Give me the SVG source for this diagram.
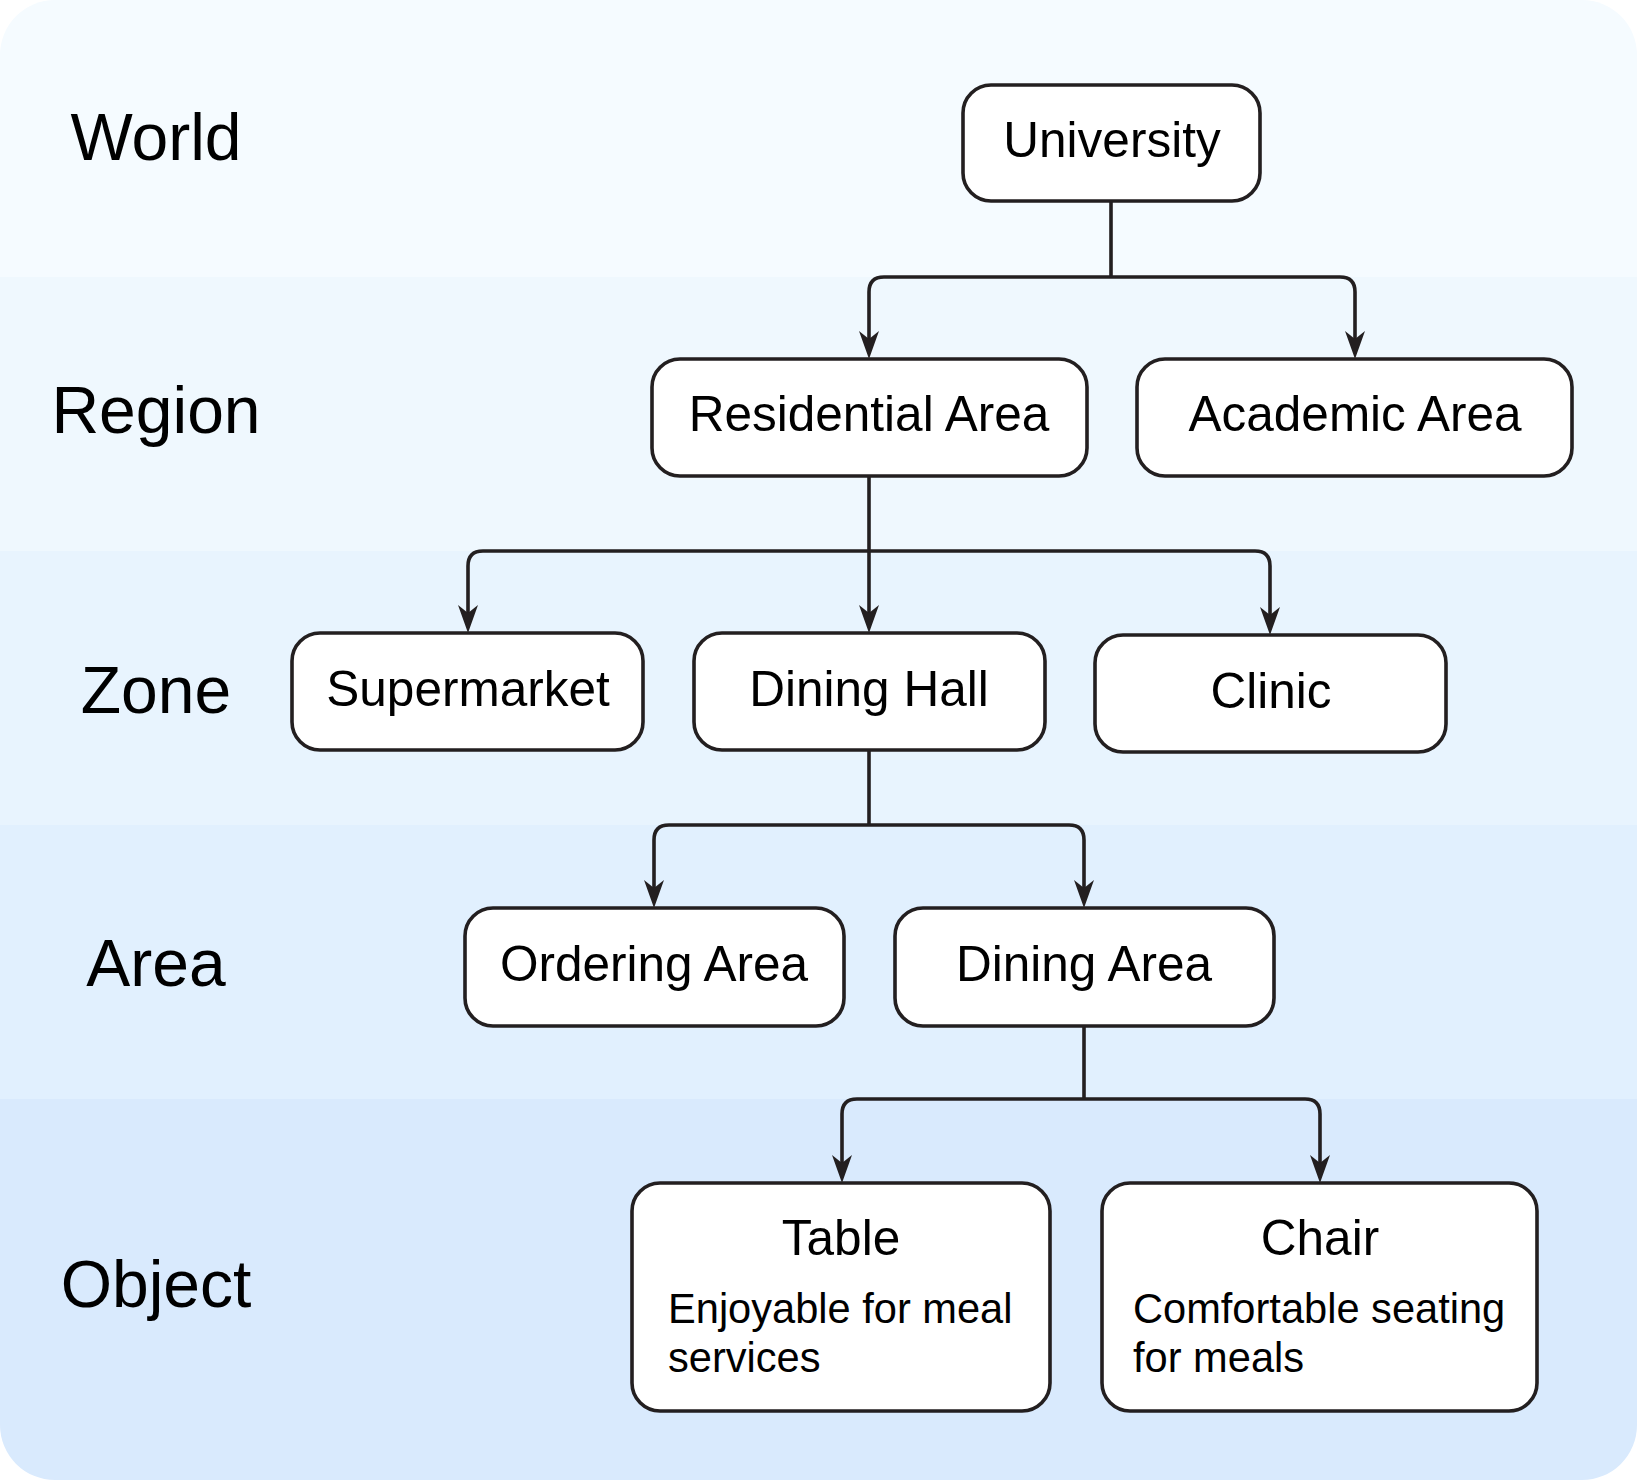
<svg xmlns="http://www.w3.org/2000/svg" width="1637" height="1480" viewBox="0 0 1637 1480">
<style>
.node rect{fill:#ffffff;stroke:#231f20;stroke-width:3.6}
.lbl{font-family:"Liberation Sans",Arial,sans-serif;font-size:49.5px;fill:#000;text-anchor:middle}
.desc{font-family:"Liberation Sans",Arial,sans-serif;font-size:41.6px;fill:#000}
.layer{font-family:"Liberation Sans",Arial,sans-serif;font-size:66px;fill:#000;text-anchor:middle}
.conn path{fill:none;stroke:#231f20;stroke-width:3.6;marker-end:url(#arr)}
.conn path.plain{marker-end:none}
</style>
<defs>
<clipPath id="bg"><rect x="0" y="0" width="1637" height="1480" rx="55" ry="55"/></clipPath>
<marker id="arr" viewBox="0 0 28 20" refX="18" refY="10" markerWidth="28" markerHeight="20" markerUnits="userSpaceOnUse" orient="auto">
<path d="M0,0 L28,10 L0,20 L8,10 Z" fill="#231f20"/>
</marker>
</defs>
<rect width="1637" height="1480" fill="#ffffff"/>
<g clip-path="url(#bg)">
<rect x="0" y="0" width="1637" height="277" fill="#f5fbff"/>
<rect x="0" y="277" width="1637" height="274" fill="#eff8fe"/>
<rect x="0" y="551" width="1637" height="274" fill="#e8f4fe"/>
<rect x="0" y="825" width="1637" height="274" fill="#e1f0fe"/>
<rect x="0" y="1099" width="1637" height="381" fill="#d9eafd"/>
</g>
<g id="layers">
<text class="layer" x="156" y="160">World</text>
<text class="layer" x="156" y="433">Region</text>
<text class="layer" x="156" y="713">Zone</text>
<text class="layer" x="156" y="986">Area</text>
<text class="layer" x="156" y="1307">Object</text>
</g>
<g id="connectors" class="conn">
<path class="plain" d="M1111 201 V277"/>
<path d="M1111 277 H884 Q869 277 869 292 V349"/>
<path d="M1111 277 H1340 Q1355 277 1355 292 V349"/>
<path d="M869 476 V623"/>
<path d="M869 551 H483 Q468 551 468 566 V623"/>
<path d="M869 551 H1255 Q1270 551 1270 566 V625"/>
<path class="plain" d="M869 750 V825"/>
<path d="M869 825 H669 Q654 825 654 840 V898"/>
<path d="M869 825 H1069 Q1084 825 1084 840 V898"/>
<path class="plain" d="M1084 1026 V1099"/>
<path d="M1084 1099 H857 Q842 1099 842 1114 V1173"/>
<path d="M1084 1099 H1305 Q1320 1099 1320 1114 V1173"/>
</g>
<g id="university" class="node"><rect x="963" y="85" width="297" height="116" rx="28"/><text class="lbl" x="1112" y="157">University</text></g>
<g id="residential" class="node"><rect x="652" y="359" width="435" height="117" rx="28"/><text class="lbl" x="869" y="431">Residential Area</text></g>
<g id="academic" class="node"><rect x="1137" y="359" width="435" height="117" rx="28"/><text class="lbl" x="1355" y="431">Academic Area</text></g>
<g id="supermarket" class="node"><rect x="292" y="633" width="351" height="117" rx="28"/><text class="lbl" x="468" y="706">Supermarket</text></g>
<g id="dininghall" class="node"><rect x="694" y="633" width="351" height="117" rx="28"/><text class="lbl" x="869" y="706">Dining Hall</text></g>
<g id="clinic" class="node"><rect x="1095" y="635" width="351" height="117" rx="28"/><text class="lbl" x="1271" y="708">Clinic</text></g>
<g id="ordering" class="node"><rect x="465" y="908" width="379" height="118" rx="28"/><text class="lbl" x="654" y="981">Ordering Area</text></g>
<g id="diningarea" class="node"><rect x="895" y="908" width="379" height="118" rx="28"/><text class="lbl" x="1084" y="981">Dining Area</text></g>
<g id="table" class="node"><rect x="632" y="1183" width="418" height="228" rx="28"/><text class="lbl" x="841" y="1255">Table</text><text class="desc" x="668" y="1323">Enjoyable for meal</text><text class="desc" x="668" y="1372">services</text></g>
<g id="chair" class="node"><rect x="1102" y="1183" width="435" height="228" rx="28"/><text class="lbl" x="1320" y="1255">Chair</text><text class="desc" x="1133" y="1323">Comfortable seating</text><text class="desc" x="1133" y="1372">for meals</text></g>
</svg>
